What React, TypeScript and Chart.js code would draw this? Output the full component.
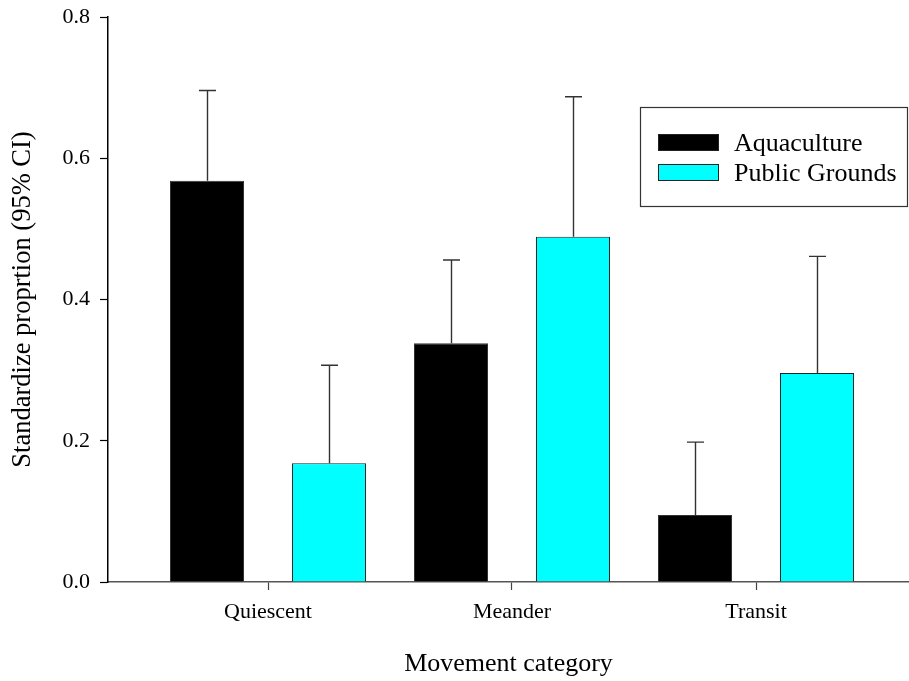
import React, { useEffect, useRef } from "react";
import { Chart, registerables } from "chart.js";

Chart.register(...registerables);

const categories = ["Quiescent", "Meander", "Transit"];
const seriesNames = ["Aquaculture", "Public Grounds"];
const aquacultureValues = [0.568, 0.338, 0.095];
const aquacultureUpper = [0.696, 0.456, 0.198];
const publicValues = [0.168, 0.489, 0.296];
const publicUpper = [0.307, 0.687, 0.461];
const yTicks = [0, 0.2, 0.4, 0.6, 0.8];

const FONT = "'Liberation Serif', 'Times New Roman', Times, serif";

const errorBarPlugin = {
  id: "errorBars",
  afterDatasetsDraw(chart: any) {
    const ctx = chart.ctx;
    const yScale = chart.scales.y;
    const uppers = [aquacultureUpper, publicUpper];
    ctx.save();
    ctx.strokeStyle = "#333";
    ctx.lineWidth = 1.4;
    chart.data.datasets.forEach((ds: any, di: number) => {
      const meta = chart.getDatasetMeta(di);
      meta.data.forEach((el: any, i: number) => {
        const x = Math.round(el.x) + 0.5;
        const yTop = yScale.getPixelForValue(uppers[di][i]);
        const yBar = el.y;
        ctx.beginPath();
        ctx.moveTo(x, yBar);
        ctx.lineTo(x, yTop);
        ctx.moveTo(x - 8.5, yTop);
        ctx.lineTo(x + 8.5, yTop);
        ctx.stroke();
      });
    });
    ctx.restore();
  },
};

const legendPlugin = {
  id: "boxLegend",
  afterDraw(chart: any) {
    const ctx = chart.ctx;
    ctx.save();
    ctx.strokeStyle = "#333";
    ctx.lineWidth = 1.2;
    ctx.strokeRect(640.5, 107.5, 267, 99);
    const rows = [134, 164];
    const baselines = [151, 181];
    chart.data.datasets.forEach((ds: any, i: number) => {
      ctx.fillStyle = ds.backgroundColor;
      ctx.fillRect(658, rows[i], 61, 17);
      ctx.strokeStyle = "#222";
      ctx.lineWidth = 1;
      ctx.strokeRect(658.5, rows[i] + 0.5, 60, 16);
      ctx.fillStyle = "#000";
      ctx.font = `26px ${FONT}`;
      ctx.textBaseline = "alphabetic";
      ctx.textAlign = "left";
      ctx.fillText(ds.label, 734, baselines[i]);
    });
    ctx.restore();
  },
};

export default function App() {
  const canvasRef = useRef<HTMLCanvasElement | null>(null);

  useEffect(() => {
    document.body.style.margin = "0";
    const canvas = canvasRef.current;
    if (!canvas) return;
    const chart = new Chart(canvas, {
      type: "bar",
      data: {
        datasets: [
          {
            label: seriesNames[0],
            data: aquacultureValues.map((v, i) => ({ x: i + 1, y: v })),
            backgroundColor: "#000000",
            borderColor: "#333333",
            borderWidth: 1,
          },
          {
            label: seriesNames[1],
            data: publicValues.map((v, i) => ({ x: i + 1, y: v })),
            backgroundColor: "#00FFFF",
            borderColor: "#222222",
            borderWidth: 1,
          },
        ],
      },
      options: {
        animation: false,
        responsive: false,
        devicePixelRatio: 1,
        categoryPercentage: 1.0,
        barPercentage: 0.607,
        layout: { padding: { top: 17, left: 0, right: 0, bottom: 0 } },
        plugins: {
          legend: { display: false },
          tooltip: { enabled: false },
        },
        scales: {
          x: {
            type: "linear",
            offset: false,
            min: 1 - 160 / 244,
            max: 1 + 641 / 244,
            afterBuildTicks: (scale: any) => {
              scale.ticks = categories.map((_, i) => ({ value: i + 1 }));
            },
            afterFit: (scale: any) => {
              scale.height = 99;
              scale.paddingLeft = 0;
              scale.paddingRight = 0;
            },
            ticks: {
              autoSkip: false,
              maxRotation: 0,
              padding: 9,
              color: "#000",
              font: { family: FONT, size: 22 },
              callback: (v: any) => categories[Math.round(Number(v)) - 1] ?? "",
            },
            grid: {
              offset: false,
              drawOnChartArea: false,
              drawTicks: true,
              tickLength: 8,
              tickColor: "#444",
              tickWidth: 1.2,
            },
            border: { display: true, color: "#555", width: 1.5 },
            title: {
              display: true,
              text: "Movement category",
              color: "#000",
              font: { family: FONT, size: 26 },
              padding: { top: 0, bottom: 1 },
            },
          },
          y: {
            min: 0,
            max: 0.8,
            afterBuildTicks: (scale: any) => {
              scale.ticks = yTicks.map((v) => ({ value: v }));
            },
            afterFit: (scale: any) => {
              scale.width = 108;
              scale.paddingTop = 0;
              scale.paddingBottom = 0;
            },
            ticks: {
              padding: 10,
              color: "#000",
              font: { family: FONT, size: 22 },
              callback: (v: any) => Number(v).toFixed(1),
            },
            grid: {
              drawOnChartArea: false,
              drawTicks: true,
              tickLength: 8,
              tickColor: "#000",
              tickWidth: 1.2,
            },
            border: { display: true, color: "#000", width: 1.5 },
            title: {
              display: true,
              text: "Standardize proprtion (95% CI)",
              color: "#000",
              font: { family: FONT, size: 26.5 },
              padding: { top: 7, bottom: 0 },
            },
          },
        },
      },
      plugins: [errorBarPlugin, legendPlugin],
    } as any);
    return () => chart.destroy();
  }, []);

  return (
    <div style={{ width: 909, height: 681 }}>
      <canvas ref={canvasRef} width={909} height={681} style={{ display: "block" }} />
    </div>
  );
}
